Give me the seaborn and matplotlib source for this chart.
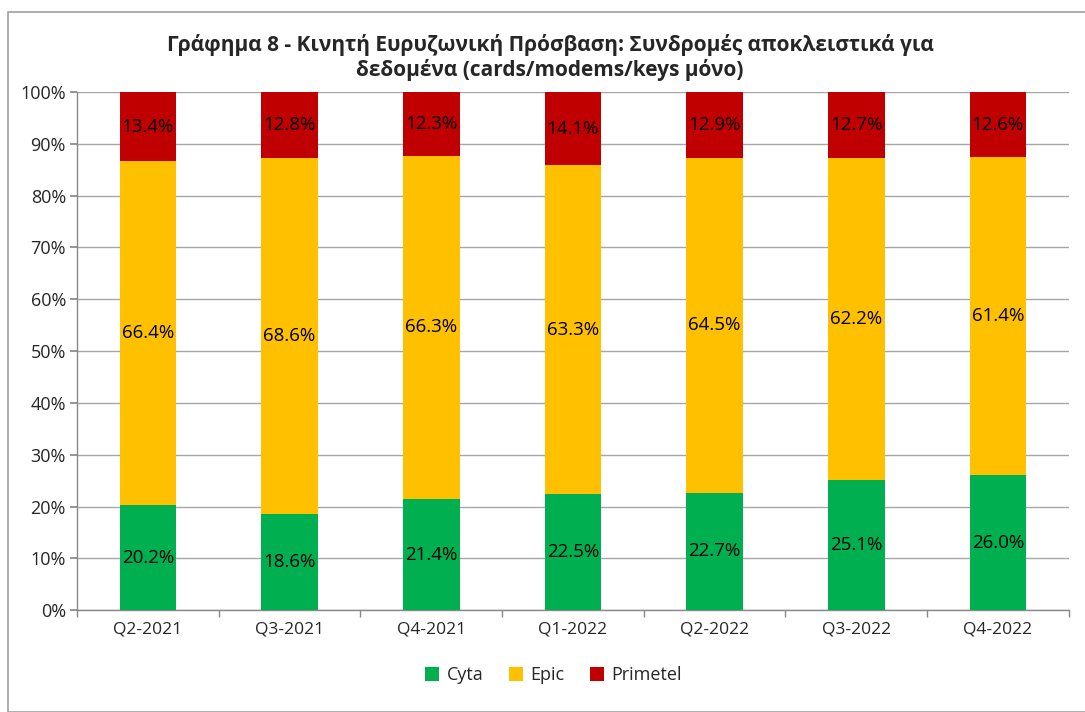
import numpy as np
import pandas as pd
import seaborn as sns
import matplotlib.pyplot as plt
from matplotlib.patches import Rectangle

# --- DATA ---
quarters = ["Q2-2021", "Q3-2021", "Q4-2021", "Q1-2022", "Q2-2022", "Q3-2022", "Q4-2022"]
cyta = [20.2, 18.6, 21.4, 22.5, 22.7, 25.1, 26.0]
epic = [66.4, 68.6, 66.3, 63.3, 64.5, 62.2, 61.4]
primetel = [13.4, 12.8, 12.3, 14.1, 12.9, 12.7, 12.6]

series = [("Cyta", cyta, "#00B050"), ("Epic", epic, "#FFC000"), ("Primetel", primetel, "#C00000")]

sns.set_theme(style="white")
plt.rcParams['font.family'] = ['Open Sans', 'DejaVu Sans']

fig = plt.figure(figsize=(10.85, 7.12), dpi=100)
ax = fig.add_axes([0.071, 0.143, 0.914, 0.728])

# outer chart frame
fig.patches.append(Rectangle((8 / 1085, 0), 1.0, 1 - 12 / 712, transform=fig.transFigure,
                             fill=False, edgecolor="#A0A0A0", linewidth=1.2))

df = pd.DataFrame({"quarter": quarters})
bottom = np.zeros(len(quarters))
for name, vals, color in series:
    df["v"] = vals
    sns.barplot(data=df, x="quarter", y="v", bottom=bottom, color=color, width=0.4,
                label=name, ax=ax, saturation=1, zorder=3, linewidth=0)
    cont = ax.containers[-1]
    ax.bar_label(cont, labels=[f"{v:.1f}%" for v in vals], label_type="center",
                 fontsize=13.5, color="black")
    bottom = bottom + np.array(vals)

ax.set_ylim(0, 100)
ax.set_xlim(-0.5, len(quarters) - 0.5)
ax.set_yticks(range(0, 101, 10))
ax.set_yticklabels([f"{t}%" for t in range(0, 101, 10)], fontsize=13)
ax.tick_params(axis="x", labelsize=12.5, length=0, pad=8)
ax.set_xticks(np.arange(-0.5, len(quarters), 1.0), minor=True)
ax.tick_params(axis="x", which="minor", length=5, color="#888888", direction="out", bottom=True)
ax.tick_params(axis="y", length=5, color="#888888", direction="out", left=True, pad=3)
ax.set_xlabel("")
ax.set_ylabel("")
ax.yaxis.grid(True, color="#A6A6A6", linewidth=1, zorder=0)
ax.set_axisbelow(True)
for s in ["top", "right"]:
    ax.spines[s].set_visible(False)
for s in ["left", "bottom"]:
    ax.spines[s].set_color("#888888")
    ax.spines[s].set_linewidth(1)

fig.text(0.507, 1 - 45 / 712, "Γράφημα 8 - Κινητή Ευρυζωνική Πρόσβαση: Συνδρομές αποκλειστικά για",
         ha="center", va="center", fontsize=15, fontweight="bold")
fig.text(0.507, 1 - 70 / 712, "δεδομένα (cards/modems/keys μόνο)",
         ha="center", va="center", fontsize=15, fontweight="bold")

ax.legend(loc="center", bbox_to_anchor=(0.51, 1 - 675 / 712), bbox_transform=fig.transFigure,
          ncol=3, frameon=False, fontsize=13, handlelength=0.8, handleheight=0.8,
          columnspacing=1.4, handletextpad=0.4)

fig.savefig("out.png", dpi=100)
